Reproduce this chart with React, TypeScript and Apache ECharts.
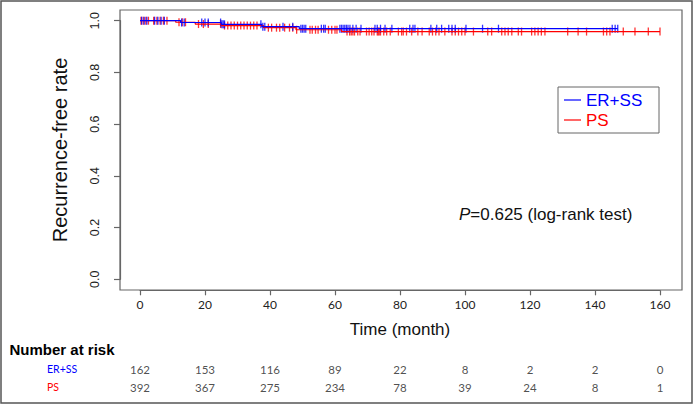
import React, { useEffect, useRef } from "react";
import * as echarts from "echarts";

// Kaplan–Meier steps (event times and survival after each step)
const erssTimes = [0, 12.5, 25, 37.5, 49];
const erssSurv = [1, 0.993, 0.986, 0.977, 0.969];
const erssEnd = 147;
const psTimes = [0, 11, 17, 25, 38, 48, 62];
const psSurv = [1, 0.994, 0.987, 0.981, 0.973, 0.965, 0.958];
const psEnd = 160;

// censoring times
const erssCensor = [0.5, 1.3, 2.1, 4.5, 5.5, 6.5, 7.5, 12.8, 13.6, 19, 20, 21, 24.8, 25.2, 25.6, 26, 37.2, 37.8, 38.4, 44, 47, 49.5, 50, 50.5, 51, 55.8, 56.5, 57, 61.5, 62, 62.5, 63, 63.5, 64, 64.6, 65.5, 66.5, 68, 72.3, 73, 74, 75.4, 77.5, 83, 84, 84.6, 89.5, 91.3, 92.8, 95, 96, 97, 100.3, 105.4, 110.3, 145.3, 146.2, 147];
const psCensor = [0.3, 1, 1.8, 2.6, 4.2, 5.2, 6.2, 7.2, 8.3, 12, 13, 14, 18, 19.5, 21, 24.8, 26, 27, 28, 29, 30, 31, 32, 33, 34, 35, 36, 39.5, 40.5, 42, 43, 44.5, 46, 47, 48.2, 52.3, 53, 54, 54.8, 58, 59, 60, 60.6, 63.7, 64.5, 65, 65.5, 66, 67, 67.7, 69.7, 70.5, 71.3, 72, 73, 73.3, 73.6, 74, 75, 75.9, 77, 79.5, 80.5, 81, 82, 83.6, 85.5, 86.8, 89, 90, 91, 92, 93.8, 96, 97, 98, 99, 100, 102.6, 107, 108.2, 111.3, 112.3, 113.3, 114.4, 116.4, 117.4, 120.5, 121.5, 122.5, 123.5, 124.6, 131.6, 134.8, 137.4, 142.6, 143.6, 144.6, 148.7, 152.3, 156.4, 160];

// number at risk
const riskTimes = [0, 20, 40, 60, 80, 100, 120, 140, 160];
const erssRisk = [162, 153, 116, 89, 22, 8, 2, 2, 0];
const psRisk = [392, 367, 275, 234, 78, 39, 24, 8, 1];
const groups = ["PS", "ER+SS"];
const legendNames = ["ER+SS", "PS"];

const BLUE = "#0000ff";
const RED = "#ff0000";

function survAt(times: number[], surv: number[], t: number) {
  let s = surv[0];
  for (let i = 0; i < times.length; i++) if (times[i] <= t) s = surv[i];
  return s;
}
function stepData(times: number[], surv: number[], end: number) {
  const d = times.map((t, i) => [t, surv[i]]);
  d.push([end, surv[surv.length - 1]]);
  return d;
}

export default function App() {
  const ref = useRef<HTMLDivElement>(null);
  useEffect(() => {
    document.body.style.margin = "0";
    const chart = echarts.init(ref.current!, null, { renderer: "svg" });
    const legendColors = [BLUE, RED];
    const legendGraphics: any[] = [
      { type: "rect", silent: true, shape: { x: 558, y: 87, width: 101, height: 46 }, style: { fill: "#fff", stroke: "#666", lineWidth: 1 }, z: 10 },
    ];
    legendNames.forEach((n, i) => {
      const cy = 100 + i * 20;
      legendGraphics.push({ type: "line", silent: true, shape: { x1: 564, y1: cy, x2: 581, y2: cy }, style: { stroke: legendColors[i], lineWidth: 1.2 }, z: 11 });
      legendGraphics.push({
        type: "text", silent: true, x: 586, y: cy, z: 11,
        style: { text: n, font: "17px 'Liberation Sans'", fill: legendColors[i], verticalAlign: "middle", textAlign: "left" },
      });
    });
    const option: any = {
      animation: false,
      backgroundColor: "#ffffff",
      grid: [
        { left: 140, top: 20.7, width: 520, height: 258.6 },
        { left: 140, top: 360, width: 520, height: 36 },
      ],
      xAxis: [
        {
          type: "value", gridIndex: 0, min: 0, max: 160, interval: 20, offset: 11,
          axisLine: { show: true, onZero: false, lineStyle: { color: "#666", width: 1.2 } },
          axisTick: { show: true, length: 5, lineStyle: { color: "#666", width: 1.2 } },
          axisLabel: { margin: 8, fontSize: 12, color: "#222", fontFamily: "Lato" },
          splitLine: { show: false },
          name: "Time (month)", nameLocation: "middle", nameGap: 31,
          nameTextStyle: { fontSize: 17, color: "#111", fontFamily: "Liberation Sans" },
        },
        { type: "value", gridIndex: 1, min: 0, max: 160, show: false },
      ],
      yAxis: [
        {
          type: "value", gridIndex: 0, min: 0, max: 1, interval: 0.2, offset: 20,
          axisLine: { show: true, onZero: false, lineStyle: { color: "#666", width: 1.2 } },
          axisTick: { show: true, length: 6, lineStyle: { color: "#666", width: 1.2 } },
          axisLabel: {
            rotate: 90, margin: 19, fontSize: 12.5, color: "#222", fontFamily: "Liberation Sans",
            formatter: (v: number) => v.toFixed(1),
          },
          splitLine: { show: false },
          name: "Recurrence-free rate", nameLocation: "middle", nameRotate: 90, nameGap: 50,
          nameTextStyle: { fontSize: 20, color: "#111", fontFamily: "Liberation Sans" },
        },
        {
          type: "category", gridIndex: 1, data: groups,
          axisLine: { show: false }, axisTick: { show: false }, splitLine: { show: false },
          axisLabel: {
            align: "left", margin: 93, fontSize: 10.5, fontFamily: "Lato",
            color: (v: string) => (v === "PS" ? RED : BLUE),
          },
        },
      ],
      series: [
        {
          name: "PS", type: "line", step: "end", xAxisIndex: 0, yAxisIndex: 0,
          data: stepData(psTimes, psSurv, psEnd), symbol: "none",
          lineStyle: { color: RED, width: 1.2 }, itemStyle: { color: RED },
        },
        {
          name: "PS censored", type: "scatter", xAxisIndex: 0, yAxisIndex: 0,
          data: psCensor.map((t) => [t, survAt(psTimes, psSurv, t)]),
          symbol: "rect", symbolSize: [1.3, 8], itemStyle: { color: RED, opacity: 0.8 },
        },
        {
          name: "ER+SS", type: "line", step: "end", xAxisIndex: 0, yAxisIndex: 0,
          data: stepData(erssTimes, erssSurv, erssEnd), symbol: "none",
          lineStyle: { color: BLUE, width: 1.2 }, itemStyle: { color: BLUE },
        },
        {
          name: "ER+SS censored", type: "scatter", xAxisIndex: 0, yAxisIndex: 0,
          data: erssCensor.map((t) => [t, survAt(erssTimes, erssSurv, t)]),
          symbol: "rect", symbolSize: [1.3, 8], itemStyle: { color: BLUE, opacity: 0.8 },
        },
        {
          name: "risk", type: "scatter", xAxisIndex: 1, yAxisIndex: 1,
          symbolSize: 0.1, itemStyle: { color: "transparent" },
          data: [
            ...riskTimes.map((t, i) => [t, "ER+SS", erssRisk[i]]),
            ...riskTimes.map((t, i) => [t, "PS", psRisk[i]]),
          ],
          label: {
            show: true, position: "inside", fontSize: 11.5, fontFamily: "Lato", color: "#222",
            formatter: (p: any) => String(p.value[2]),
          },
        },
      ],
      graphic: [
        { type: "rect", silent: true, shape: { x: 1, y: 1, width: 691, height: 402 }, style: { fill: "none", stroke: "#555", lineWidth: 1.5 } },
        { type: "rect", silent: true, shape: { x: 120, y: 10, width: 562, height: 280 }, style: { fill: "none", stroke: "#666", lineWidth: 1.2 } },
        ...legendGraphics,
        {
          type: "text", left: 459, top: 206,
          style: {
            text: "{i|P}=0.625 (log-rank test)",
            font: "17px 'Liberation Sans'", fill: "#111",
            rich: { i: { fontStyle: "italic", fontSize: 17, fontFamily: "Liberation Sans", fill: "#111" } },
          },
        },
        {
          type: "text", left: 9.5, top: 342,
          style: { text: "Number at risk", font: "bold 15px 'Liberation Sans'", fill: "#000" },
        },
      ],
    };
    chart.setOption(option);
    return () => chart.dispose();
  }, []);
  return <div ref={ref} style={{ width: 694, height: 405 }} />;
}
